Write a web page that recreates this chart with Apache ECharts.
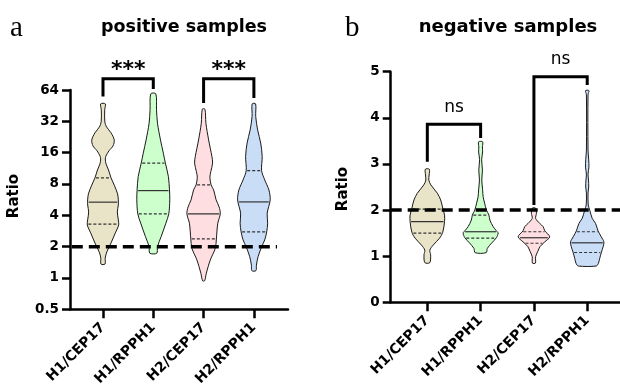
<!DOCTYPE html>
<html>
<head>
<meta charset="utf-8">
<script src="https://cdn.jsdelivr.net/npm/echarts@6.0.0/dist/echarts.min.js"></script>
<style>
html,body{margin:0;padding:0;background:#fff;}
#chart{width:620px;height:392px;}
</style>
</head>
<body>
<div id="chart"></div>
<script>
// ---------- DATA ----------
const categories = ['H1/CEP17', 'H1/RPPH1', 'H2/CEP17', 'H2/RPPH1'];
const posTicks = [0.5, 1, 2, 4, 8, 16, 32, 64];
const negTicks = [0, 1, 2, 3, 4, 5];
const threshold = 2;

// violin outlines: [ratio, density half-width (fraction of category spacing)]
const posH1CEP17 = [[47.1,0.046],[41.3,0.034],[31.6,0.036],[28.3,0.07],[24.8,0.16],[21.2,0.223],[18.6,0.2],[16.7,0.12],[14.9,0.06],[13.9,0.046],[12.5,0.06],[10.9,0.11],[9.16,0.16],[7.67,0.23],[6.43,0.29],[5.63,0.305],[5.04,0.305],[4.31,0.285],[3.61,0.305],[3.23,0.312],[2.71,0.245],[2.17,0.16],[1.78,0.076],[1.56,0.044],[1.36,0.04]];
const posH1RPPH1 = [[58.8,0.05],[41.3,0.064],[30.7,0.083],[21.2,0.143],[15.8,0.2],[12.7,0.24],[9.42,0.3],[7.02,0.322],[5.63,0.328],[4.13,0.308],[3.36,0.25],[2.49,0.155],[2.0,0.083],[1.73,0.07]];
const posH2CEP17 = [[41.9,0.026],[30.7,0.046],[21.2,0.1],[14.7,0.165],[12.7,0.179],[10.5,0.143],[9.3,0.125],[7.84,0.149],[7.02,0.199],[5.63,0.249],[4.82,0.308],[4.13,0.332],[3.36,0.282],[2.37,0.254],[1.93,0.233],[1.49,0.133],[1.11,0.054],[0.94,0.02]];
const posH2RPPH1 = [[47.1,0.034],[35.6,0.036],[26.5,0.074],[19.8,0.135],[14.7,0.165],[10.77,0.153],[8.76,0.215],[7.02,0.298],[5.63,0.324],[4.19,0.264],[3.36,0.274],[2.77,0.254],[2.32,0.215],[1.97,0.149],[1.60,0.083],[1.33,0.05],[1.175,0.04]];
// quartiles [Q1, median, Q3]
const posQuartiles = [[3.29,5.35,9.16],[4.13,6.91,12.7],[2.37,4.13,7.84],[2.77,5.38,10.77]];

const negH1CEP17 = [[2.885,0.0375],[2.76,0.034],[2.65,0.028],[2.545,0.066],[2.365,0.188],[2.22,0.25],[2.04,0.29],[1.89,0.323],[1.75,0.323],[1.52,0.29],[1.39,0.229],[1.24,0.109],[1.13,0.047],[1.03,0.062],[0.86,0.047]];
const negH1RPPH1 = [[3.48,0.0375],[3.37,0.034],[3.26,0.0375],[3.09,0.019],[2.87,0.034],[2.65,0.022],[2.44,0.0375],[2.29,0.047],[2.15,0.075],[2.0,0.109],[1.89,0.156],[1.785,0.173],[1.64,0.235],[1.55,0.296],[1.50,0.328],[1.40,0.296],[1.28,0.203],[1.17,0.126],[1.076,0.103]];
const negH2CEP17 = [[2.04,0.032],[1.93,0.047],[1.82,0.032],[1.71,0.109],[1.64,0.173],[1.55,0.203],[1.42,0.296],[1.31,0.203],[1.21,0.116],[1.10,0.071],[0.99,0.032],[0.85,0.028]];
const negH2RPPH1 = [[4.59,0.032],[4.50,0.015],[3.30,0.015],[3.09,0.028],[2.93,0.032],[2.78,0.015],[2.65,0.024],[2.50,0.028],[2.37,0.015],[2.11,0.019],[2.0,0.047],[1.82,0.094],[1.71,0.156],[1.55,0.203],[1.42,0.263],[1.31,0.313],[1.21,0.30],[1.085,0.266],[0.955,0.235],[0.846,0.21],[0.787,0.169]];
const negQuartiles = [[1.50,1.75,2.02],[1.39,1.53,1.89],[1.28,1.40,1.53],[1.08,1.29,1.53]];

// significance brackets: [from, to, top, left leg end, right leg end, label]
const posBrackets = [[0,1,82,55.4,65.3,'***'],[2,3,82,47.9,53.5,'***']];
const negBrackets = [[0,1,3.86,3.05,3.56,'ns'],[2,3,4.89,2.11,4.71,'ns']];

// ---------- STYLE ----------
const fills = ['#E9E3C7', '#CCFFCC', '#FFDEE1', '#C9DDF6'];
const FONT = 'DejaVu Sans';

const posProfiles = [posH1CEP17, posH1RPPH1, posH2CEP17, posH2RPPH1];
const negProfiles = [negH1CEP17, negH1RPPH1, negH2CEP17, negH2RPPH1];

function violinRender(profiles, quartiles) {
  return function (params, api) {
    const i = params.dataIndex;
    const idx = api.value(0);
    const prof = profiles[i];
    const cx = api.coord([idx, prof[0][0]])[0];
    const right = prof.map(p => api.coord([idx + p[1], p[0]]));
    const left = prof.map(p => api.coord([idx - p[1], p[0]])).reverse();
    const children = [{
      type: 'polygon',
      shape: { points: right.concat(left), smooth: 0.3 },
      style: { fill: fills[i], stroke: '#1a1a1a', lineWidth: 1 }
    }];
    quartiles[i].forEach((q, k) => {
      const y = api.coord([idx, q])[1];
      let hw = 0;
      for (let j = 0; j < right.length - 1; j++) {
        const y1 = right[j][1], y2 = right[j + 1][1];
        if ((y - y1) * (y - y2) <= 0) {
          const t = (y2 === y1) ? 0 : (y - y1) / (y2 - y1);
          hw = (right[j][0] - cx) + t * (right[j + 1][0] - right[j][0]);
          break;
        }
      }
      children.push({
        type: 'line',
        shape: { x1: cx - hw + 1, y1: y, x2: cx + hw - 1, y2: y },
        style: { stroke: '#333', lineWidth: 1.2, lineDash: k === 1 ? null : [3, 2] }
      });
    });
    return { type: 'group', children };
  };
}

function bracketRender(brackets, font, offset) {
  return function (params, api) {
    const b = brackets[params.dataIndex];
    const p1 = api.coord([b[0], b[3]]);
    const p2 = api.coord([b[0], b[2]]);
    const p3 = api.coord([b[1], b[2]]);
    const p4 = api.coord([b[1], b[4]]);
    return {
      type: 'group',
      children: [
        { type: 'polyline', shape: { points: [p1, p2, p3, p4] },
          style: { stroke: '#000', lineWidth: 3, fill: null, lineJoin: 'miter', lineCap: 'butt' } },
        { type: 'text', x: (p2[0] + p3[0]) / 2, y: p2[1] - offset,
          style: { text: b[5], font: font, fill: '#000', align: 'center', verticalAlign: 'middle' } }
      ]
    };
  };
}

const axisLineStyle = { color: '#000', width: 2.5 };
const tickLabel = { color: '#000', fontFamily: FONT, fontWeight: 'bold', fontSize: 13.5 };
const xLabel = { color: '#000', fontFamily: FONT, fontWeight: 'bold', fontSize: 14 };

function xAxisCfg(gridIndex, min, max) {
  return {
    type: 'value', gridIndex, min, max,
    splitLine: { show: false },
    axisLine: { show: true, onZero: false, lineStyle: axisLineStyle },
    axisTick: { show: true, length: 9, lineStyle: { color: '#000', width: 2.5 }, customValues: [0, 1, 2, 3] },
    axisLabel: Object.assign({ customValues: [0, 1, 2, 3], rotate: 45, margin: 16,
      formatter: v => categories[Math.round(v)] }, xLabel)
  };
}

const chart = echarts.init(document.getElementById('chart'), null, { renderer: 'canvas' });
chart.setOption({
  animation: false,
  backgroundColor: '#fff',
  title: [
    { text: 'positive samples', left: 179, top: 13, textAlign: 'center',
      textStyle: { fontFamily: FONT, fontWeight: 'bold', fontSize: 17.5, color: '#000' } },
    { text: 'negative samples', left: 503, top: 13, textAlign: 'center',
      textStyle: { fontFamily: FONT, fontWeight: 'bold', fontSize: 18, color: '#000' } }
  ],
  graphic: [
    { type: 'text', x: 10, y: 43, style: { text: 'a', font: '29px "Liberation Serif"', fill: '#000', verticalAlign: 'bottom' } },
    { type: 'text', x: 345, y: 43, style: { text: 'b', font: '29px "Liberation Serif"', fill: '#000', verticalAlign: 'bottom' } },
    { type: 'text', x: 14, y: 196, rotation: Math.PI / 2,
      style: { text: 'Ratio', font: 'bold 15px "DejaVu Sans"', fill: '#000', align: 'center', verticalAlign: 'middle' } },
    { type: 'text', x: 343, y: 189, rotation: Math.PI / 2,
      style: { text: 'Ratio', font: 'bold 15px "DejaVu Sans"', fill: '#000', align: 'center', verticalAlign: 'middle' } }
  ],
  grid: [
    { left: 70, right: 332, top: 90, bottom: 82.7 },
    { left: 390.7, right: 0, top: 71.7, bottom: 89.7 }
  ],
  xAxis: [
    xAxisCfg(0, -0.656, 3.678),
    xAxisCfg(1, -0.687, 3.615)
  ],
  yAxis: [
    { type: 'log', logBase: 2, gridIndex: 0, min: posTicks[0], max: posTicks[posTicks.length - 1],
      splitLine: { show: false }, minorTick: { show: false },
      axisLine: { show: true, onZero: false, lineStyle: axisLineStyle },
      axisTick: { show: true, length: 8, lineStyle: { color: '#000', width: 2.5 } },
      axisLabel: Object.assign({ margin: 11, formatter: v => String(+(+v).toPrecision(6)) }, tickLabel) },
    { type: 'value', gridIndex: 1, min: negTicks[0], max: negTicks[negTicks.length - 1], interval: 1,
      splitLine: { show: false },
      axisLine: { show: true, onZero: false, lineStyle: axisLineStyle },
      axisTick: { show: true, length: 8, lineStyle: { color: '#000', width: 2.5 } },
      axisLabel: Object.assign({ margin: 11 }, tickLabel) }
  ],
  series: [
    { type: 'custom', xAxisIndex: 0, yAxisIndex: 0, z: 2,
      renderItem: violinRender(posProfiles, posQuartiles),
      encode: { x: 0, y: 1 },
      data: categories.map((c, i) => [i, posQuartiles[i][1]]) },
    { type: 'custom', xAxisIndex: 1, yAxisIndex: 1, z: 2,
      renderItem: violinRender(negProfiles, negQuartiles),
      encode: { x: 0, y: 1 },
      data: categories.map((c, i) => [i, negQuartiles[i][1]]) },
    { type: 'line', xAxisIndex: 0, yAxisIndex: 0, z: 5, symbol: 'none', silent: true,
      lineStyle: { color: '#000', width: 3.5, type: [11, 6] },
      data: [[-0.62, threshold], [3.46, threshold]] },
    { type: 'line', xAxisIndex: 1, yAxisIndex: 1, z: 5, symbol: 'none', silent: true,
      lineStyle: { color: '#000', width: 3.5, type: [11, 6] },
      data: [[-0.687, threshold], [3.615, threshold]] },
    { type: 'custom', xAxisIndex: 0, yAxisIndex: 0, z: 6, clip: false,
      renderItem: bracketRender(posBrackets, 'bold 22px "DejaVu Sans"', 9),
      encode: { x: 0, y: 1 },
      data: posBrackets.map(b => [(b[0] + b[1]) / 2, b[2]]) },
    { type: 'custom', xAxisIndex: 1, yAxisIndex: 1, z: 6, clip: false,
      renderItem: bracketRender(negBrackets, '17px "DejaVu Sans"', 17),
      encode: { x: 0, y: 1 },
      data: negBrackets.map(b => [(b[0] + b[1]) / 2, b[2]]) }
  ]
});
</script>
</body>
</html>
